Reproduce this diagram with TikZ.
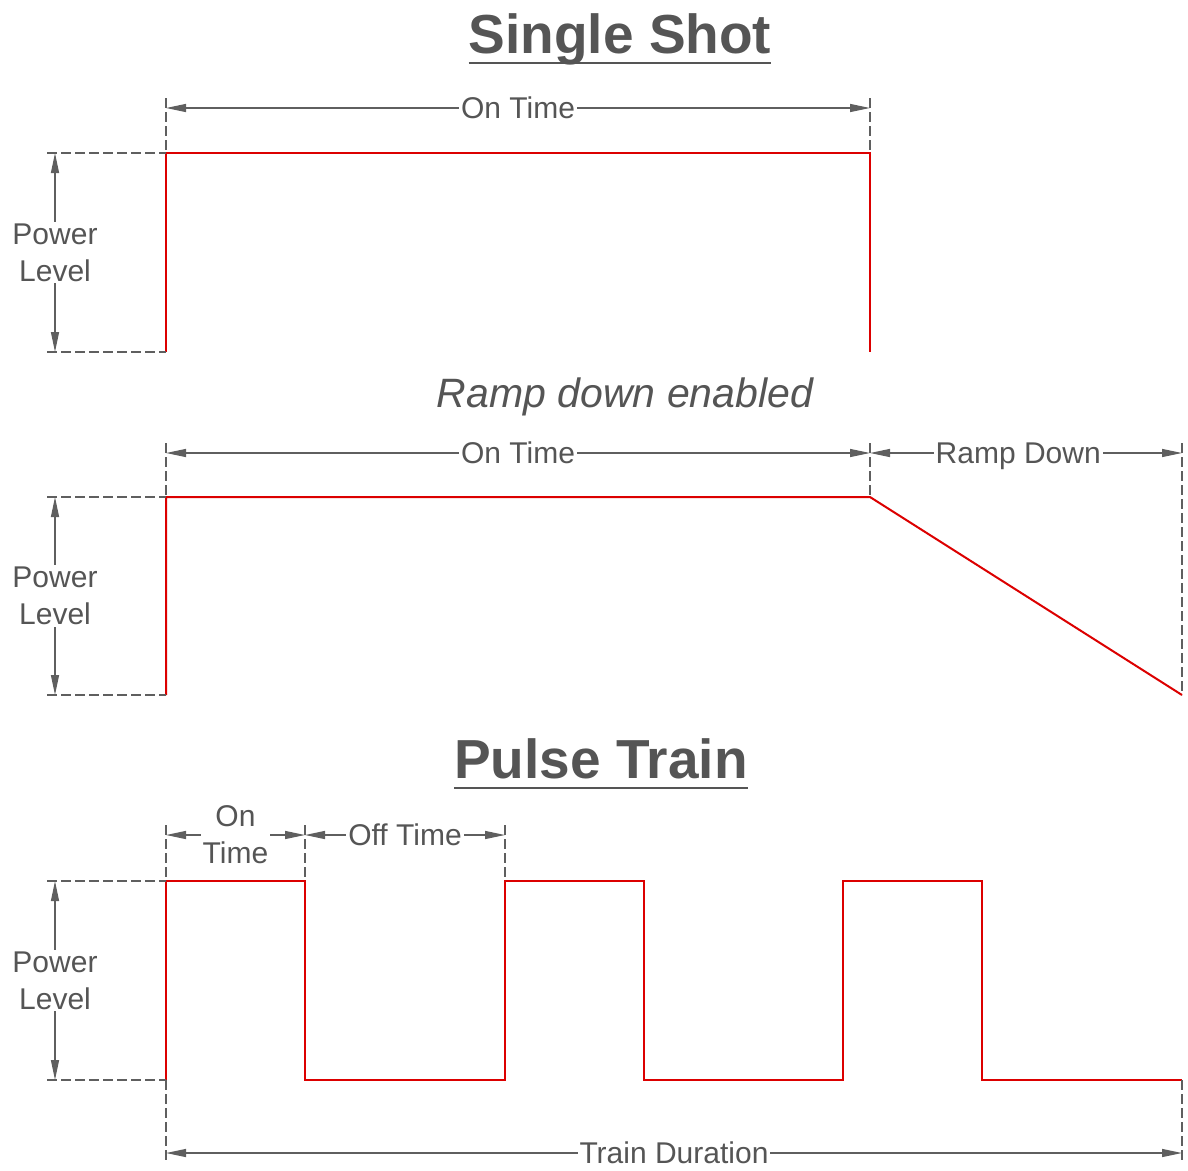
\documentclass[tikz,border=0pt]{standalone}
\usepackage{fontspec}
\setmainfont{Liberation Sans}
\usepackage{xcolor}
\usetikzlibrary{arrows.meta,calc}
\definecolor{ink}{RGB}{85,85,85}
\definecolor{dimgray}{RGB}{95,95,95}
\definecolor{sigred}{RGB}{220,0,0}

\begin{document}
\begin{tikzpicture}[x=1pt, y=-1pt,
  sig/.style={draw=sigred, line width=2pt},
  dimline/.style={draw=dimgray, line width=1.3pt, {Triangle[length=20pt,width=8pt]}-{Triangle[length=20pt,width=8pt]}},
  extline/.style={draw=dimgray, line width=1.2pt, dash pattern=on 10pt off 4pt},
  lbl/.style={fill=white, text=ink, inner sep=2pt, align=center, text depth=0pt, font=\fontsize{30}{37}\selectfont},
  heading/.style={text=ink, inner sep=0pt, anchor=base, font=\fontsize{55}{60}\selectfont\bfseries}]

\useasboundingbox (0,0) rectangle (1188,1170);

% Titles
\node[heading] (single) at (620,53) {Single Shot};
\draw[ink, line width=1.2pt] ($(single.base west)+(0,10)$) -- ($(single.base east)+(0,10)$);
\node[text=ink, anchor=base, font=\fontsize{41}{48}\selectfont\itshape] (rampnote) at (625,407) {Ramp down enabled};
\node[heading] (pulse) at (601,778) {Pulse Train};
\draw[ink, line width=1.2pt] ($(pulse.base west)+(0,10)$) -- ($(pulse.base east)+(0,10)$);

% Single shot waveform
\coordinate (a0) at (166,352);
\coordinate (a1) at (166,153);
\coordinate (a2) at (870,153);
\coordinate (a3) at (870,352);
\draw[sig] (a0) -- (a1) -- (a2) -- (a3);

% Single shot dimensions
\coordinate (aon0) at (166,108);
\coordinate (aon1) at (870,108);
\draw[extline] ($(aon0)+(0,-10)$) -- (a1);
\draw[extline] ($(aon1)+(0,-10)$) -- (a2);
\draw[dimline] (aon0) -- node[lbl] (aontime) {On Time} (aon1);
\coordinate (apw0) at (55,153);
\coordinate (apw1) at (55,352);
\draw[extline] ($(apw0)+(-8,0)$) -- (a1);
\draw[extline] ($(apw1)+(-8,0)$) -- (a0);
\draw[dimline] (apw0) -- node[lbl] (apower) {Power\\Level} (apw1);

% Ramp down waveform
\coordinate (b0) at (166,695);
\coordinate (b1) at (166,497);
\coordinate (b2) at (870,497);
\coordinate (b3) at (1182,695);
\draw[sig] (b0) -- (b1) -- (b2) -- (b3);

% Ramp down dimensions
\coordinate (bon0) at (166,453);
\coordinate (bon1) at (870,453);
\coordinate (bramp) at (1182,453);
\draw[extline] ($(bon0)+(0,-10)$) -- (b1);
\draw[extline] ($(bon1)+(0,-10)$) -- (b2);
\draw[extline] ($(bramp)+(0,-10)$) -- (b3);
\draw[dimline] (bon0) -- node[lbl] (bontime) {On Time} (bon1);
\draw[dimline] (bon1) -- node[lbl, pos=0.475] (brampdown) {Ramp Down} (bramp);
\coordinate (bpw0) at (55,497);
\coordinate (bpw1) at (55,695);
\draw[extline] ($(bpw0)+(-8,0)$) -- (b1);
\draw[extline] ($(bpw1)+(-8,0)$) -- (b0);
\draw[dimline] (bpw0) -- node[lbl] (bpower) {Power\\Level} (bpw1);

% Pulse train waveform
\draw[sig] (166,1080) -- (166,881) -- (305,881) -- (305,1080) -- (505,1080) -- (505,881)
  -- (644,881) -- (644,1080) -- (843,1080) -- (843,881) -- (982,881) -- (982,1080) -- (1182,1080);

% Pulse train dimensions
\coordinate (c0) at (166,881);
\coordinate (c1) at (305,881);
\coordinate (c2) at (505,881);
\coordinate (cb0) at (166,1080);
\coordinate (cb1) at (1182,1080);
\coordinate (cd0) at (166,835);
\coordinate (cd1) at (305,835);
\coordinate (cd2) at (505,835);
\draw[extline] ($(cd0)+(0,-10)$) -- (c0);
\draw[extline] ($(cd1)+(0,-10)$) -- (c1);
\draw[extline] ($(cd2)+(0,-10)$) -- (c2);
\draw[dimline] (cd0) -- node[lbl] (contime) {On\\Time} (cd1);
\draw[dimline] (cd1) -- node[lbl] (cofftime) {Off Time} (cd2);
\coordinate (ct0) at (166,1153);
\coordinate (ct1) at (1182,1153);
\draw[extline] (cb0) -- ($(ct0)+(0,10)$);
\draw[extline] (cb1) -- ($(ct1)+(0,10)$);
\draw[dimline] (ct0) -- node[lbl] (ctrain) {Train Duration} (ct1);
\coordinate (cpw0) at (55,881);
\coordinate (cpw1) at (55,1080);
\draw[extline] ($(cpw0)+(-8,0)$) -- (c0);
\draw[extline] ($(cpw1)+(-8,0)$) -- (cb0);
\draw[dimline] (cpw0) -- node[lbl] (cpower) {Power\\Level} (cpw1);

\end{tikzpicture}
\end{document}
